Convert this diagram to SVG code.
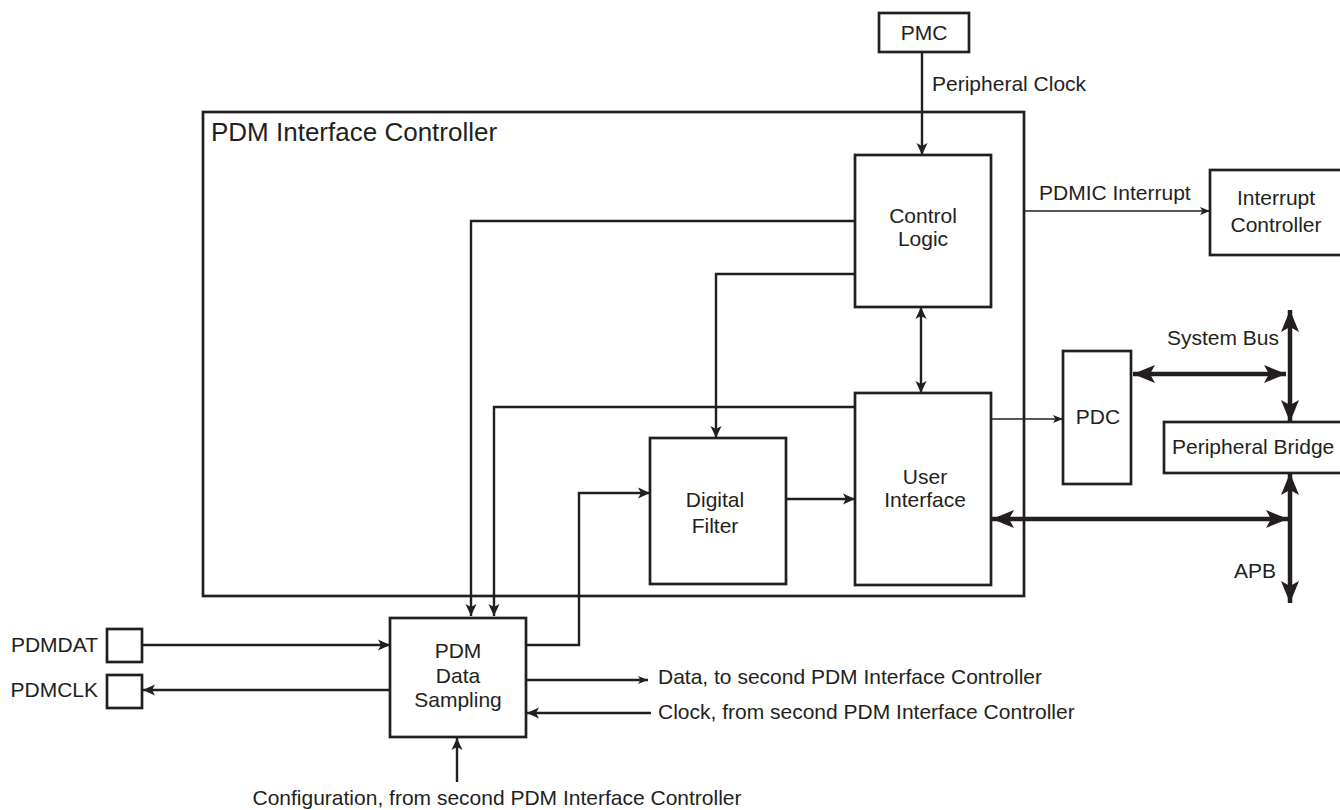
<svg xmlns="http://www.w3.org/2000/svg" width="1340" height="810" viewBox="0 0 1340 810">
<style>
text{font-family:"Liberation Sans",Arial,Helvetica,sans-serif;font-size:21px;fill:#231f20}
.box{fill:#fff;stroke:#231f20;stroke-width:2.7}
.ln{fill:none;stroke:#231f20;stroke-width:2.4}
.thin{fill:none;stroke:#231f20;stroke-width:1.3}
.thick{fill:none;stroke:#231f20;stroke-width:4.5}
.c{text-anchor:middle}
.e{text-anchor:end}
</style>
<defs>
<marker id="a" markerUnits="userSpaceOnUse" markerWidth="14" markerHeight="12" refX="12" refY="5.5" orient="auto-start-reverse" viewBox="0 0 14 11">
<path d="M0,0 L12,5.5 L0,11 L3,5.5 Z" fill="#231f20"/>
</marker>
<marker id="s" markerUnits="userSpaceOnUse" markerWidth="12" markerHeight="10" refX="10" refY="4" orient="auto-start-reverse" viewBox="0 0 12 8">
<path d="M0,0 L10,4 L0,8 L2.5,4 Z" fill="#231f20"/>
</marker>
<marker id="b" markerUnits="userSpaceOnUse" markerWidth="24" markerHeight="20" refX="22" refY="10" orient="auto-start-reverse" viewBox="0 0 24 20">
<path d="M0,1 L22,10 L0,19 L5,10 Z" fill="#231f20"/>
</marker>
</defs>

<g id="pdm-interface-controller">
<rect class="box" x="203" y="112" width="821" height="484" style="fill:none"/>
<text x="211" y="141" style="font-size:26px">PDM Interface Controller</text>
</g>

<g id="pmc">
<rect class="box" x="879" y="13" width="90" height="39"/>
<text class="c" x="924" y="40">PMC</text>
</g>

<g id="control-logic">
<rect class="box" x="855" y="155" width="136" height="152"/>
<text class="c" x="923" y="223">Control</text>
<text class="c" x="923" y="246">Logic</text>
</g>

<g id="user-interface">
<rect class="box" x="855" y="393" width="136" height="192"/>
<text class="c" x="925" y="484">User</text>
<text class="c" x="925" y="507">Interface</text>
</g>

<g id="digital-filter">
<rect class="box" x="650" y="438" width="136" height="146"/>
<text class="c" x="715" y="507">Digital</text>
<text class="c" x="715" y="533">Filter</text>
</g>

<g id="pdm-data-sampling">
<rect class="box" x="390" y="618" width="136" height="119"/>
<text class="c" x="458" y="658">PDM</text>
<text class="c" x="458" y="683">Data</text>
<text class="c" x="458" y="707">Sampling</text>
</g>

<g id="interrupt-controller">
<rect class="box" x="1210" y="170" width="140" height="85"/>
<text class="c" x="1276" y="205">Interrupt</text>
<text class="c" x="1276" y="232">Controller</text>
</g>

<g id="pdc">
<rect class="box" x="1063" y="351" width="68" height="133"/>
<text class="c" x="1098" y="424">PDC</text>
</g>

<g id="peripheral-bridge">
<rect class="box" x="1164" y="422" width="190" height="51"/>
<text x="1172" y="454">Peripheral Bridge</text>
</g>

<g id="pdmdat">
<rect class="box" x="107" y="629" width="35" height="33"/>
<text class="e" x="98" y="652">PDMDAT</text>
</g>

<g id="pdmclk">
<rect class="box" x="107" y="675" width="35" height="33"/>
<text class="e" x="98" y="697">PDMCLK</text>
</g>

<g id="connectors">
<path class="ln" d="M922,52 V155" marker-end="url(#a)"/>
<path class="ln" d="M855,221 H471 V616" marker-end="url(#a)"/>
<path class="ln" d="M855,274 H716 V438" marker-end="url(#a)"/>
<path class="ln" d="M921,307 V393" marker-start="url(#a)" marker-end="url(#a)"/>
<path class="ln" d="M855,407 H494 V616" marker-end="url(#a)"/>
<path class="ln" d="M526,645 H579 V493 H650" marker-end="url(#a)"/>
<path class="ln" d="M786,499 H855" marker-end="url(#a)"/>
<path class="thin" d="M1024,211 H1210" marker-end="url(#s)"/>
<path class="thin" d="M991,419 H1063" marker-end="url(#s)"/>
<path class="thick" d="M1133,374 H1286" marker-start="url(#b)" marker-end="url(#b)"/>
<path class="thick" d="M1290,310 V422" marker-start="url(#b)" marker-end="url(#b)"/>
<path class="thick" d="M992,519 H1288" marker-start="url(#b)" marker-end="url(#b)"/>
<path class="thick" d="M1290,473 V603" marker-start="url(#b)" marker-end="url(#b)"/>
<path class="ln" d="M142,645 H390" marker-end="url(#a)"/>
<path class="ln" d="M390,690 H143" marker-end="url(#a)"/>
<path class="ln" d="M526,680 H648" marker-end="url(#s)"/>
<path class="ln" d="M651,713 H527" marker-end="url(#a)"/>
<path class="ln" d="M457,782 V738" marker-end="url(#a)"/>
</g>

<g id="labels">
<text x="932" y="91">Peripheral Clock</text>
<text x="1039" y="200">PDMIC Interrupt</text>
<text class="e" x="1279" y="345">System Bus</text>
<text class="e" x="1276" y="578">APB</text>
<text x="658" y="684">Data, to second PDM Interface Controller</text>
<text x="658" y="719">Clock, from second PDM Interface Controller</text>
<text class="c" x="497" y="805">Configuration, from second PDM Interface Controller</text>
</g>
</svg>
